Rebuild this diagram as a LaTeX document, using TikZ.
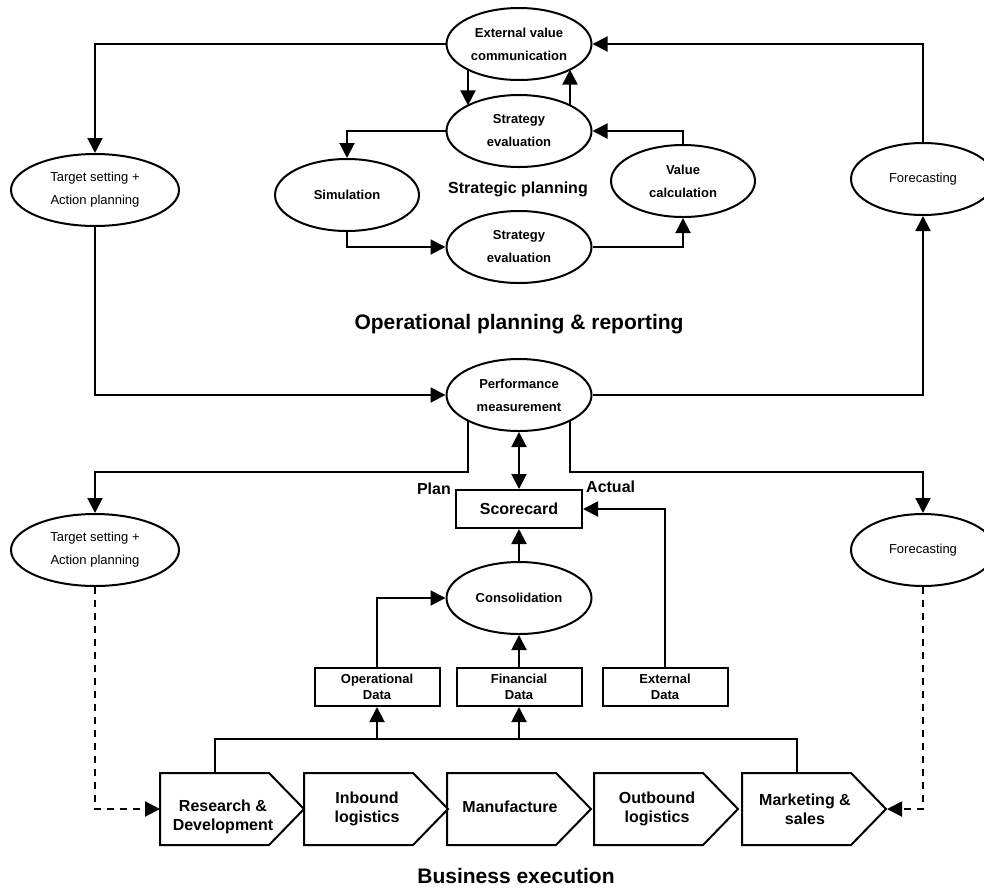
\documentclass[tikz,border=0pt]{standalone}
\usepackage{fontspec}
\setmainfont{Liberation Sans}
\usetikzlibrary{shapes.geometric,arrows.meta,calc}
\tikzset{
  ln/.style={line width=2pt},
  arr/.style={ln,-{Triangle[length=15pt,width=15pt]}},
  darr/.style={ln,{Triangle[length=15pt,width=15pt]}-{Triangle[length=15pt,width=15pt]}},
  dsh/.style={arr,dash pattern=on 7pt off 6pt},
  ell/.style={draw,ellipse,ln,minimum width=145pt,minimum height=72pt,inner sep=0pt,align=center,font=\fontsize{13}{23}\selectfont\bfseries},
  ellr/.style={ell,font=\fontsize{13}{23}\selectfont},
  databox/.style={draw,rectangle,ln,minimum width=125pt,minimum height=38pt,inner sep=0pt,align=center,font=\fontsize{13}{16}\selectfont\bfseries},
  scbox/.style={databox,minimum width=126pt,font=\fontsize{16}{19}\selectfont\bfseries},
  chevbody/.style={rectangle,minimum width=109pt,minimum height=72pt,inner sep=0pt,outer sep=0pt},
  chevtxt/.style={align=center,inner sep=0pt,font=\fontsize{16}{19}\selectfont\bfseries},
  lbl/.style={inner sep=0pt,font=\fontsize{16}{19}\selectfont\bfseries},
  biglbl/.style={inner sep=0pt,font=\fontsize{21}{25}\selectfont\bfseries},
}
\newcommand{\mychev}[4]{%
  \node[chevbody] (#1) at (#2+54.5,809) {};
  \draw[ln,line join=miter] (#1.north west) -- (#1.north east) -- ++(35,36) -- (#1.south east) -- (#1.south west) -- cycle;
  \coordinate (#1tip) at (#2+145,809);
  \node[chevtxt] (#1t) at (#2+63,#3) {#4};
}
\begin{document}
\begin{tikzpicture}[x=1pt,y=-1pt]
\useasboundingbox (0,0) rectangle (984,887);
\fill[white] (0,0) rectangle (984,887);

% strategic planning ellipses
\node[ell] (ext) at (519,44) {External value\\communication};
\node[ell] (se1) at (519,131) {Strategy\\evaluation};
\node[ell] (se2) at (519,247) {Strategy\\evaluation};
\node[ell,minimum width=144pt] (sim) at (347,195) {Simulation};
\node[ell,minimum width=144pt] (val) at (683,181) {Value\\calculation};
\node[ellr,minimum width=168pt] (tgt1) at (95,190) {Target setting +\\Action planning};
\node[ellr,minimum width=144pt] (fc1) at (923,179) {Forecasting};
\node[lbl,anchor=base] (sp) at (518,193) {Strategic planning};
\node[biglbl,anchor=base] (opr) at (519,329) {Operational planning \& reporting};

% operational
\node[ell] (perf) at (519,395) {Performance\\measurement};
\node[ellr,minimum width=168pt] (tgt2) at (95,550) {Target setting +\\Action planning};
\node[ellr,minimum width=144pt] (fc2) at (923,550) {Forecasting};
\node[scbox] (score) at (519,509) {Scorecard};
\node[lbl,anchor=base east] (plan) at (451,494) {Plan};
\node[lbl,anchor=base west] (actual) at (586,492) {Actual};
\node[ell] (cons) at (519,598) {Consolidation};
\node[databox] (opd) at (377,687) {Operational\\Data};
\node[databox] (fin) at (519,687) {Financial\\Data};
\node[databox] (extd) at (665,687) {External\\Data};

% business execution chevrons
\mychev{rd}{160}{817}{Research \&\\Development}
\mychev{ib}{304}{809}{Inbound\\logistics}
\mychev{mf}{447}{807}{Manufacture}
\mychev{ob}{594}{809}{Outbound\\logistics}
\mychev{mk}{742}{809}{Marketing \&\\sales}
\node[biglbl,anchor=base] (be) at (516,883) {Business execution};

\coordinate (bus) at (0,739);
\coordinate (split) at (0,472);

% connectors: strategic
\draw[arr] (ext.west) -| (tgt1.north);
\draw[arr] (fc1.north) |- (ext.east);
\draw[arr] ($(ext.center)+(-51,25.6)$) -- ($(se1.center)+(-51,-25.6)$);
\draw[arr] ($(se1.center)+(51,-25.6)$) -- ($(ext.center)+(51,25.6)$);
\draw[arr] (se1.west) -| (sim.north);
\draw[arr] (sim.south) |- (se2.west);
\draw[arr] (se2.east) -| (val.south);
\draw[arr] (val.north) |- (se1.east);

% operational
\draw[arr] (tgt1.south) |- (perf.west);
\draw[arr] (perf.east) -| (fc1.south);
\draw[arr] ($(perf.center)+(-51,25.6)$) |- (tgt2.north |- split) -- (tgt2.north);
\draw[arr] ($(perf.center)+(51,25.6)$) |- (fc2.north |- split) -- (fc2.north);
\draw[darr] (perf.south) -- (score.north);
\draw[arr] (cons.north) -- (score.south);
\draw[arr] (extd.north) |- (score.east);
\draw[arr] (opd.north) |- (cons.west);
\draw[arr] (fin.north) -- (cons.south);

% business execution
\draw[ln] (rd.north) |- (mk.north |- bus) -- (mk.north);
\draw[arr] (opd.south |- bus) -- (opd.south);
\draw[arr] (fin.south |- bus) -- (fin.south);
\draw[dsh] (tgt2.south) |- (rd.west);
\draw[dsh] (fc2.south) |- (mktip);
\end{tikzpicture}
\end{document}
